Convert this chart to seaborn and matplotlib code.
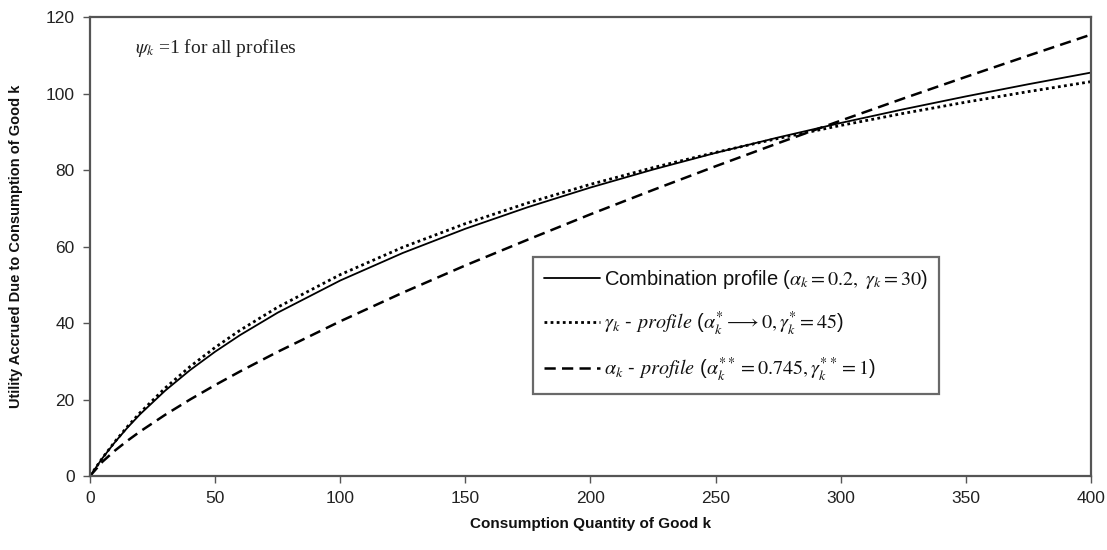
import matplotlib
matplotlib.use("Agg")
import matplotlib.pyplot as plt
import seaborn as sns
import pandas as pd

# Data
quantity = [0, 5, 10, 15, 20, 30, 40, 50, 60, 75, 100, 125, 150, 175, 200,
            225, 250, 275, 300, 325, 350, 375, 400]
combination = [0, 4.70, 8.88, 12.67, 16.14, 22.30, 27.70, 32.51, 36.86, 42.71,
               51.12, 58.32, 64.65, 70.30, 75.43, 80.13, 84.48, 88.52, 92.31,
               95.88, 99.25, 102.44, 105.48]
gamma_profile = [0, 4.74, 9.03, 12.95, 16.55, 22.99, 28.62, 33.62, 38.13, 44.14,
                 52.65, 59.81, 65.99, 71.41, 76.26, 80.63, 84.61, 88.27, 91.66,
                 94.81, 97.75, 100.51, 103.11]
alpha_profile = [0, 3.76, 6.67, 9.25, 11.63, 15.99, 20.01, 23.78, 27.36, 32.47,
                 40.45, 47.94, 55.06, 61.81, 68.43, 74.79, 80.99, 87.03, 92.92,
                 98.70, 104.36, 109.92, 115.40]

labels = [
    r"Combination profile ($\alpha_k = 0.2,\ \gamma_k = 30$)",
    r"$\gamma_k$ - $\mathbf{\mathit{profile}}$ ($\alpha_k^{*} \longrightarrow 0, \gamma_k^{*} = 45$)",
    r"$\alpha_k$ - $\mathbf{\mathit{profile}}$ ($\alpha_k^{**} = 0.745, \gamma_k^{**} = 1$)",
]
x_ticks = [0, 50, 100, 150, 200, 250, 300, 350, 400]
y_ticks = [0, 20, 40, 60, 80, 100, 120]

sns.set_theme(style="white")
plt.rcParams["font.family"] = ["Liberation Sans", "DejaVu Sans"]
plt.rcParams["mathtext.fontset"] = "stix"

fig = plt.figure(figsize=(11.07, 5.5), dpi=100)
ax = fig.add_axes([0.0813, 0.1345, 0.9042, 0.8345])

series = [combination, gamma_profile, alpha_profile]
styles = [dict(linestyle="-", linewidth=1.3),
          dict(linestyle=(0, (1, 1.2)), linewidth=2.0),
          dict(linestyle=(0, (4.5, 2.5)), linewidth=1.8)]
for vals, lab, st in zip(series, labels, styles):
    df = pd.DataFrame({"q": quantity, "u": vals})
    sns.lineplot(data=df, x="q", y="u", ax=ax, color="black", label=lab, **st)

ax.set_xlim(0, 400)
ax.set_ylim(0, 120)
ax.set_xticks(x_ticks)
ax.set_yticks(y_ticks)
ax.tick_params(axis="both", which="major", direction="out", length=5, width=1,
               color="#555555", labelsize=12.5, pad=6, bottom=True, left=True)
for lab in ax.get_xticklabels() + ax.get_yticklabels():
    lab.set_fontfamily(["Liberation Sans Narrow", "Liberation Sans", "DejaVu Sans"])
    lab.set_color("#222222")

for sp in ax.spines.values():
    sp.set_color("#555555")
    sp.set_linewidth(1.6)

ax.set_xlabel("Consumption Quantity of Good k", fontsize=11, fontweight="bold",
              labelpad=8, color="#111111")
ax.set_ylabel("Utility Accrued Due to Consumption of Good k", fontsize=10.5,
              fontweight="bold", labelpad=16, color="#111111")

ax.text(0.045, 0.932, r"$\psi_k$ =1 for all profiles", transform=ax.transAxes,
        fontsize=14, va="center", family=["Liberation Serif", "DejaVu Serif"],
        color="#222222")

leg = ax.legend(loc="upper left", bbox_to_anchor=(0.4426, 0.477), fontsize=14.5,
                handlelength=2.8, handletextpad=0.15, labelspacing=0.9,
                frameon=True, fancybox=False, borderpad=0.55, borderaxespad=0)
leg.get_frame().set_edgecolor("#444444")
leg.get_frame().set_linewidth(1.6)
leg.get_frame().set_facecolor("white")
for t in leg.get_texts():
    t.set_color("#111111")

fig.savefig("out.png", dpi=100)
